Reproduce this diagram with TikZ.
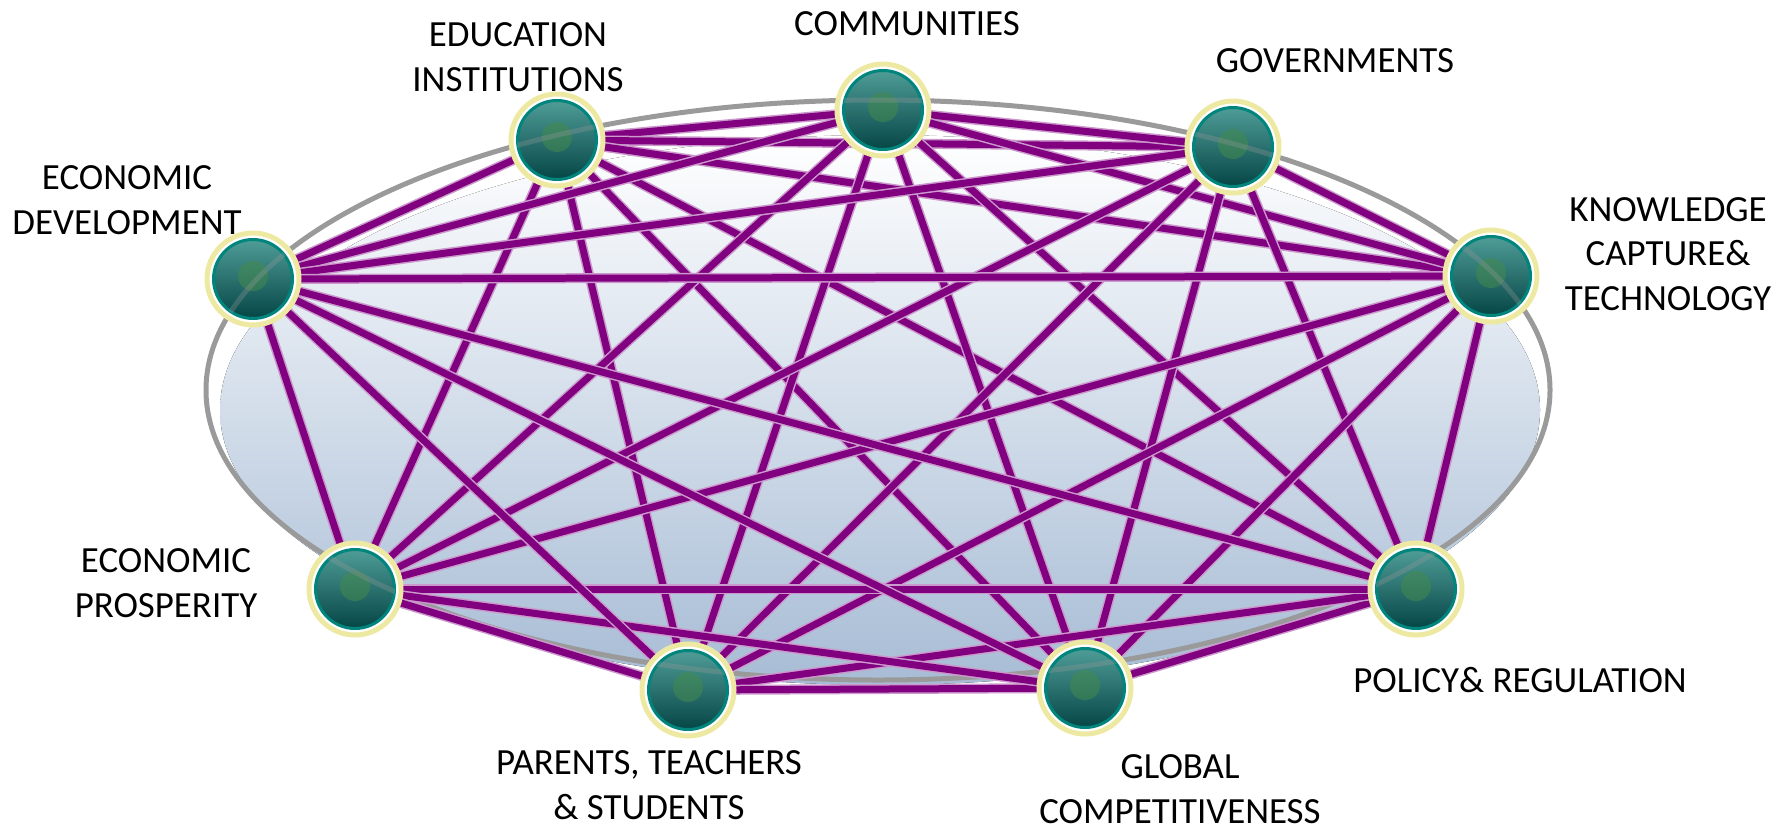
\documentclass[tikz,border=0pt]{standalone}
\usepackage{fontspec}
\setmainfont{Carlito}
\usepackage{tikz}
\usetikzlibrary{calc}

\definecolor{linkpurple}{HTML}{800080}
\definecolor{ringyellow}{HTML}{EDE9A2}
\definecolor{hubteal}{HTML}{00857D}
\definecolor{hubtop}{HTML}{4F9C97}
\definecolor{hubbot}{HTML}{054646}
\definecolor{hubgreen}{HTML}{458A4E}
\definecolor{rimgray}{HTML}{9A9A9A}
\definecolor{bowlblue}{HTML}{A7BCD5}

\newcommand{\px}{0.5691pt}

\begin{document}
\begin{tikzpicture}[x=0.02cm, y=-0.02cm,
            link/.style={line width=7*\px, color=linkpurple,
                preaction={draw=linkpurple!40, line width=10*\px}},
            rim/.style={draw=rimgray, line width=5*\px},
            ring/.style={draw=ringyellow, fill=white, line width=5*\px},
            hub/.style={shape=circle, inner sep=0pt, minimum size=79*\px,
                draw=hubteal, line width=3*\px, top color=hubtop, bottom color=hubbot},
            lbl/.style={align=center, inner sep=0pt, font=\fontsize{21}{25.3}\selectfont}]
        \useasboundingbox (0,0) rectangle (1791,829);

        % bowl and rim
        \fill[top color=white, middle color=bowlblue!15!white, bottom color=bowlblue]
            (880,410) ellipse [x radius=660, y radius=275];
        \draw[rim] (878,390) ellipse [x radius=672, y radius=290];

        \coordinate (edu) at (557,140);
        \coordinate (com) at (883,110);
        \coordinate (gov) at (1233,147);
        \coordinate (know) at (1491,276);
        \coordinate (pol) at (1416,589);
        \coordinate (glob) at (1085,688);
        \coordinate (par) at (688,690);
        \coordinate (pros) at (355,589);
        \coordinate (dev) at (253,279);

        % everybody talks to everybody
        \foreach \b in {com,gov,know,pol,glob,par,pros,dev} \draw[link] (edu) -- (\b);
        \foreach \b in {gov,know,pol,glob,par,pros,dev} \draw[link] (com) -- (\b);
        \foreach \b in {know,pol,glob,par,pros,dev} \draw[link] (gov) -- (\b);
        \foreach \b in {pol,glob,par,pros,dev} \draw[link] (know) -- (\b);
        \foreach \b in {glob,par,pros,dev} \draw[link] (pol) -- (\b);
        \foreach \b in {par,pros,dev} \draw[link] (glob) -- (\b);
        \foreach \b in {pros,dev} \draw[link] (par) -- (\b);
        \draw[link] (pros) -- (dev);

        \foreach \h in {edu,com,gov,know,pol,glob,par,pros,dev} {
            \draw[ring] (\h) circle (46);
            \node[hub] (\h-hub) at (\h) {};
            \fill[hubgreen, opacity=0.55] ($(\h)+(0,-3)$) circle (15);
            \begin{scope}
                \clip (\h) circle (40);
                \draw[rim, opacity=0.3] (878,390) ellipse [x radius=672, y radius=290];
            \end{scope}
        }

        \node[lbl] (lcom) at (907,24) {COMMUNITIES};
        \node[lbl] (lgov) at (1335,61) {GOVERNMENTS};
        \node[lbl] (ledu) at (518,57) {EDUCATION\\INSTITUTIONS};
        \node[lbl] (ldev) at (127,200) {ECONOMIC\\DEVELOPMENT};
        \node[lbl] (lknow) at (1668,254) {KNOWLEDGE\\CAPTURE\&\\TECHNOLOGY};
        \node[lbl] (lpol) at (1520,680) {POLICY\& REGULATION};
        \node[lbl] (lglob) at (1180,789) {GLOBAL\\COMPETITIVENESS};
        \node[lbl] (lpar) at (649,785) {PARENTS, TEACHERS\\\& STUDENTS};
        \node[lbl] (lpros) at (166,583) {ECONOMIC\\PROSPERITY};
    \end{tikzpicture}
\end{document}
